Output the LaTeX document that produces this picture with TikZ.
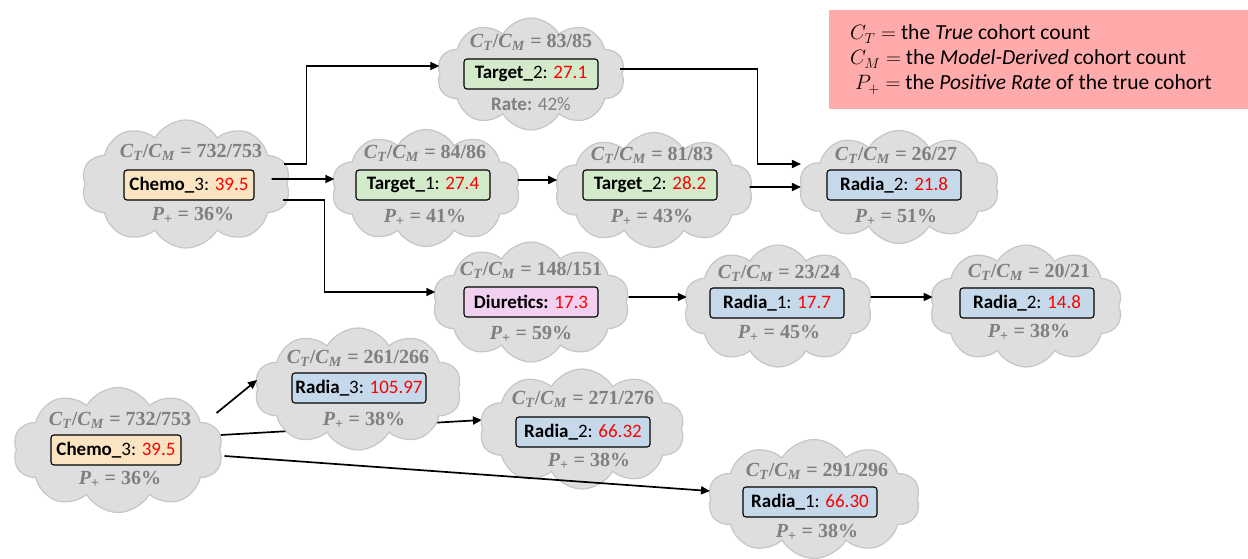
\documentclass[tikz,border=0pt]{standalone}
\usepackage[no-math]{fontspec}
\setmainfont{Carlito}
\newfontfamily\statfont{Liberation Serif}
\usepackage{amsmath}
\usetikzlibrary{shapes.symbols,arrows.meta,backgrounds}
\definecolor{cloudfill}{HTML}{DEDEDE}
\definecolor{cloudline}{HTML}{C6C6C6}
\definecolor{txtgray}{HTML}{7F7F7F}
\definecolor{chemofill}{HTML}{FBE4C1}
\definecolor{targetfill}{HTML}{D3EBCB}
\definecolor{radiafill}{HTML}{C6D9EA}
\definecolor{diufill}{HTML}{F2D0F0}
\definecolor{legendfill}{HTML}{FFABAB}
\definecolor{valred}{HTML}{FF0000}
\newcommand{\CTM}{\textit{C}\textsubscript{\textit{T}}/\textit{C}\textsubscript{\textit{M}}}
\newcommand{\Ppos}{\textit{P}\textsubscript{+}}
\tikzset{
  cloudbg/.style={cloud, cloud puffs=10, cloud puff arc=120, cloud ignores aspect, draw=cloudline, fill=cloudfill, line width=1.2pt, inner sep=0pt},
  stat/.style={text=txtgray, font=\statfont\bfseries\fontsize{20}{22}\selectfont, inner sep=0pt},
  valbox/.style={draw=black, line width=1.1pt, rounded corners=3pt, minimum width=134pt, minimum height=30pt, inner sep=0pt, font=\fontsize{19}{22}\selectfont},
  arr/.style={line width=1.7pt, -{Triangle[length=9pt,width=8pt]}},
  legendtxt/.style={anchor=base west, inner sep=0pt, font=\fontsize{21.5}{24}\selectfont},
}
\begin{document}
\begin{tikzpicture}[x=1pt,y=-1pt]
\useasboundingbox (0,0) rectangle (1248,559);
% legend
\node[fill=legendfill, anchor=north west, minimum width=419pt, minimum height=99pt, inner sep=0pt] (legend) at (829,10) {};
\node[legendtxt] (l1) at (850,40) {$C_T =$ the \textit{True} cohort count};
\node[legendtxt] (l2) at (850,65) {$C_M =$ the \textit{Model-Derived} cohort count};
\node[legendtxt] (l3) at (855,90) {$P_+ =$ the \textit{Positive Rate} of the true cohort};

% A
\node[cloudbg, minimum width=209pt, minimum height=128pt] (cA) at (186,184) {};
\node[valbox, fill=chemofill, minimum width=130pt] (bA) at (189,185) {\textbf{Chemo\_}3: \textcolor{valred}{39.5}};
\node[stat] (tA) at (191,152) {\CTM{} = 732/753};
\node[stat] (pA) at (193,215) {\Ppos{} = 36\%};
% B
\node[cloudbg, minimum width=188pt, minimum height=112pt] (cB) at (531,74) {};
\node[valbox, fill=targetfill] (bB) at (531,74) {\textbf{Target\_}2: \textcolor{valred}{27.1}};
\node[stat] (tB) at (531,42) {\CTM{} = 83/85};
\node[stat, font=\fontsize{19}{22}\selectfont] (pB) at (531,104) {\textbf{Rate:} 42\%};
% C
\node[cloudbg, minimum width=189pt, minimum height=117pt] (cC) at (426,188) {};
\node[valbox, fill=targetfill] (bC) at (423,185) {\textbf{Target\_}1: \textcolor{valred}{27.4}};
\node[stat] (tC) at (425,153) {\CTM{} = 84/86};
\node[stat] (pC) at (425,217) {\Ppos{} = 41\%};
% D
\node[cloudbg, minimum width=198pt, minimum height=115pt] (cD) at (654,190) {};
\node[valbox, fill=targetfill] (bD) at (650,185) {\textbf{Target\_}2: \textcolor{valred}{28.2}};
\node[stat] (tD) at (652,155) {\CTM{} = 81/83};
\node[stat] (pD) at (652,217) {\Ppos{} = 43\%};
% E
\node[cloudbg, minimum width=200pt, minimum height=113pt] (cE) at (899,187) {};
\node[valbox, fill=radiafill] (bE) at (894,185) {\textbf{Radia\_}2: \textcolor{valred}{21.8}};
\node[stat] (tE) at (896,155) {\CTM{} = 26/27};
\node[stat] (pE) at (896,217) {\Ppos{} = 51\%};
% F
\node[cloudbg, minimum width=197pt, minimum height=120pt] (cF) at (531,302) {};
\node[valbox, fill=diufill] (bF) at (531,302) {\textbf{Diuretics:} \textcolor{valred}{17.3}};
\node[stat] (tF) at (531,270) {\CTM{} = 148/151};
\node[stat] (pF) at (531,334) {\Ppos{} = 59\%};
% G
\node[cloudbg, minimum width=189pt, minimum height=122pt] (cG) at (778,306) {};
\node[valbox, fill=radiafill] (bG) at (777,303) {\textbf{Radia\_}1: \textcolor{valred}{17.7}};
\node[stat] (tG) at (779,273) {\CTM{} = 23/24};
\node[stat] (pG) at (779,333) {\Ppos{} = 45\%};
% H
\node[cloudbg, minimum width=193pt, minimum height=122pt] (cH) at (1026,306) {};
\node[valbox, fill=radiafill] (bH) at (1027,303) {\textbf{Radia\_}2: \textcolor{valred}{14.8}};
\node[stat] (tH) at (1029,272) {\CTM{} = 20/21};
\node[stat] (pH) at (1029,332) {\Ppos{} = 38\%};
% I
\node[cloudbg, minimum width=210pt, minimum height=125pt] (cI) at (118,450) {};
\node[valbox, fill=chemofill, minimum width=130pt] (bI) at (116,450) {\textbf{Chemo\_}3: \textcolor{valred}{39.5}};
\node[stat] (tI) at (120,420) {\CTM{} = 732/753};
\node[stat] (pI) at (120,479) {\Ppos{} = 36\%};
% J
\node[cloudbg, minimum width=207pt, minimum height=122pt] (cJ) at (358,389) {};
\node[valbox, fill=radiafill] (bJ) at (359,388) {\textbf{Radia\_}3: \textcolor{valred}{105.97}};
\node[stat] (tJ) at (358,358) {\CTM{} = 261/266};
\node[stat] (pJ) at (364,420) {\Ppos{} = 38\%};
% K
\node[cloudbg, minimum width=205pt, minimum height=120pt] (cK) at (582,429) {};
\node[valbox, fill=radiafill] (bK) at (583,432) {\textbf{Radia\_}2: \textcolor{valred}{66.32}};
\node[stat] (tK) at (583,399) {\CTM{} = 271/276};
\node[stat] (pK) at (589,461) {\Ppos{} = 38\%};
% L
\node[cloudbg, minimum width=212pt, minimum height=119pt] (cL) at (814,499) {};
\node[valbox, fill=radiafill] (bL) at (810,502) {\textbf{Radia\_}1: \textcolor{valred}{66.30}};
\node[stat] (tL) at (817,471) {\CTM{} = 291/296};
\node[stat] (pL) at (817,532) {\Ppos{} = 38\%};

% connectors
\draw[arr] ([xshift=29pt,yshift=21pt]bA.east) -- ++(23,0) |- ([yshift=8pt]cB.west);
\draw[arr] ([xshift=17pt,yshift=6pt]bA.east) -- ([yshift=9pt]cC.west);
\draw[arr] ([xshift=28pt,yshift=-15pt]bA.east) -- ++(42,0) |- ([yshift=10pt]cF.west);
\draw[arr] ([xshift=27pt,yshift=5pt]bC.east) -- ([yshift=10pt]cD.west);
\draw[arr] ([xshift=32pt,yshift=-2pt]bD.east) -- (cE.west);
\draw[arr] ([xshift=21pt,yshift=5pt]bB.east) -- ++(138,0) |- ([yshift=23pt]cE.west);
\draw[arr] ([xshift=30pt,yshift=5pt]bF.east) -- ([yshift=9pt]cG.west);
\draw[arr] ([xshift=26pt,yshift=6pt]bG.east) -- ([yshift=9pt]cH.west);
\draw[arr] ([xshift=35pt,yshift=37pt]bI.east) -- ([yshift=9pt]cJ.west);
\begin{pgfonlayer}{background}
\draw[arr] ([xshift=39pt,yshift=15pt]bI.east) -- ([yshift=9pt]cK.west);
\end{pgfonlayer}
\draw[arr] ([xshift=43pt,yshift=-6pt]bI.east) -- ([yshift=8pt]cL.west);
\end{tikzpicture}
\end{document}
